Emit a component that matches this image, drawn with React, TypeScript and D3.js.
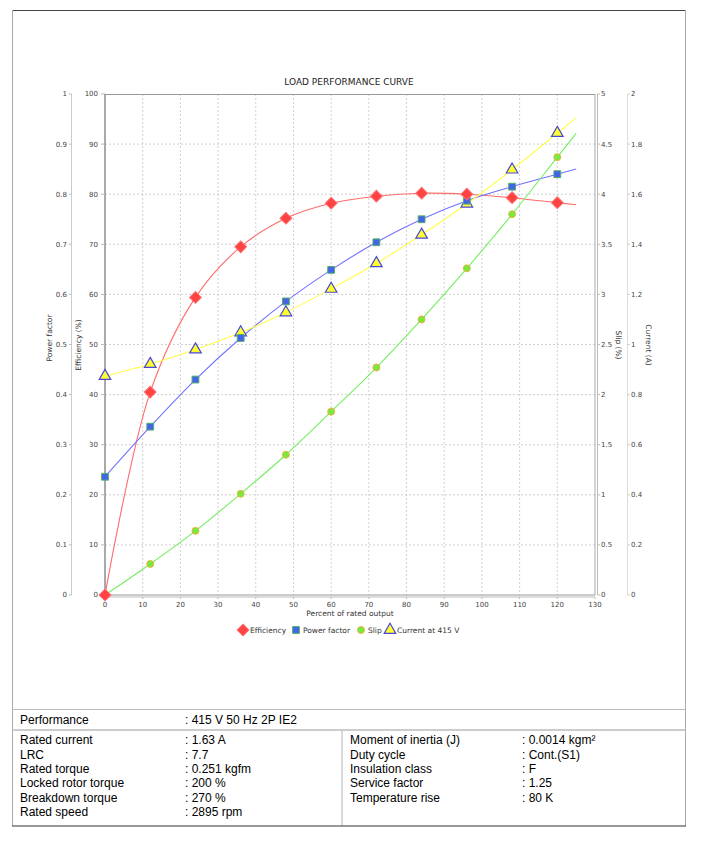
import * as d3 from "d3";

// load test points, % of rated output
const pctOutput = [0, 12, 24, 36, 48, 60, 72, 84, 96, 108, 120];
const efficiency = [0, 40.5, 59.4, 69.5, 75.2, 78.2, 79.6, 80.2, 80.0, 79.3, 78.3];
const powerFactor = [0.236, 0.336, 0.43, 0.513, 0.586, 0.649, 0.704, 0.75, 0.787, 0.815, 0.84];
const slip = [0, 0.31, 0.64, 1.01, 1.4, 1.83, 2.27, 2.75, 3.26, 3.8, 4.37];
const current = [0.874, 0.922, 0.98, 1.048, 1.128, 1.222, 1.324, 1.438, 1.562, 1.698, 1.844];
const curveEnd = 125;

const xTicks = d3.range(0, 131, 10);
const effTicks = d3.range(0, 101, 10);
const pfTicks = d3.range(0, 11).map((d) => d / 10);
const slipTicks = d3.range(0, 11).map((d) => d / 2);
const curTicks = d3.range(0, 11).map((d) => d / 5);

const perfRow = ["Performance", ": 415 V 50 Hz 2P IE2"];
const leftLabels = ["Rated current", "LRC", "Rated torque", "Locked rotor torque", "Breakdown torque", "Rated speed"];
const leftValues = [": 1.63 A", ": 7.7", ": 0.251 kgfm", ": 200 %", ": 270 %", ": 2895 rpm"];
const rightLabels = ["Moment of inertia (J)", "Duty cycle", "Insulation class", "Service factor", "Temperature rise"];
const rightValues = [": 0.0014 kgm²", ": Cont.(S1)", ": F", ": 1.25", ": 80 K"];

const legendItems = [
  { name: "Efficiency", x: 243 },
  { name: "Power factor", x: 296 },
  { name: "Slip", x: 361 },
  { name: "Current at 415 V", x: 390 },
];

const chartFont = "DejaVu Sans, sans-serif";
const tableFont = "Liberation Sans, Arial, sans-serif";

const L = 105, R = 595, T = 94, B = 595;

const x = d3.scaleLinear().domain([0, 130]).range([L, R]);
const yEff = d3.scaleLinear().domain([0, 100]).range([B, T]);
const yPf = d3.scaleLinear().domain([0, 1]).range([B, T]);
const ySlip = d3.scaleLinear().domain([0, 5]).range([B, T]);
const yCur = d3.scaleLinear().domain([0, 2]).range([B, T]);

function curvePoints(xs: number[], ys: number[]): [number, number][] {
  const n = xs.length;
  const slope = (ys[n - 1] - ys[n - 2]) / (xs[n - 1] - xs[n - 2]);
  const pts: [number, number][] = xs.map((v, i) => [v, ys[i]]);
  pts.push([curveEnd, ys[n - 1] + slope * (curveEnd - xs[n - 1])]);
  return pts;
}

const series = [
  { name: "Efficiency", values: efficiency, y: yEff, line: "#ff6b6b", fill: "#ff4242", stroke: "#ff7070", shape: "diamond" },
  { name: "Power factor", values: powerFactor, y: yPf, line: "#7272ff", fill: "#4563e8", stroke: "#4fae6a", shape: "square" },
  { name: "Slip", values: slip, y: ySlip, line: "#74ee5e", fill: "#74ec3e", stroke: "#f0b040", shape: "circle" },
  { name: "Current at 415 V", values: current, y: yCur, line: "#ffff4a", fill: "#ffff30", stroke: "#4848d8", shape: "triangle" },
];

function markerPath(shape: string): string {
  if (shape === "diamond") return d3.symbol(d3.symbolSquare, 70)()!;
  if (shape === "square") return d3.symbol(d3.symbolSquare, 46)()!;
  if (shape === "circle") return d3.symbol(d3.symbolCircle, 38)()!;
  return d3.symbol(d3.symbolTriangle, 58)()!;
}

function Marker({ s, cx, cy }: { s: (typeof series)[number]; cx: number; cy: number }) {
  return (
    <path
      d={markerPath(s.shape)}
      transform={`translate(${cx},${cy})${s.shape === "diamond" ? " rotate(45)" : ""}`}
      fill={s.fill}
      stroke={s.stroke}
      strokeWidth={s.shape === "triangle" ? 1.2 : 1}
    />
  );
}

const fmt = (v: number) => String(Math.round(v * 100) / 100);

export default function App() {
  const tickText = { fontFamily: chartFont, fontSize: 7, fill: "#444" } as const;
  const rowY0 = 740;
  const rowStep = 14.4;

  return (
    <svg width={703} height={846} style={{ position: "absolute", left: 0, top: 0, background: "#fff" }}>
      {/* frame */}
      <line x1={12} x2={685} y1={10.5} y2={10.5} stroke="#444" />
      <line x1={12.5} x2={12.5} y1={10} y2={826} stroke="#aaa" />
      <line x1={685.5} x2={685.5} y1={10} y2={826} stroke="#aaa" />

      <text x={349} y={82} dy="0.35em" textAnchor="middle" fontFamily={chartFont} fontSize={9} fill="#222">
        LOAD PERFORMANCE CURVE
      </text>

      {/* grid */}
      {xTicks.filter((t) => t > 0 && t < 130).map((t) => (
        <line key={"gx" + t} x1={x(t)} x2={x(t)} y1={T} y2={B} stroke="#c4c4c4" strokeDasharray="2,2" strokeWidth={0.8} />
      ))}
      {effTicks.filter((t) => t > 0 && t < 100).map((t) => (
        <line key={"gy" + t} x1={L} x2={R} y1={yEff(t)} y2={yEff(t)} stroke="#c4c4c4" strokeDasharray="2,2" strokeWidth={0.8} />
      ))}
      {/* plot outline */}
      <line x1={L} x2={R} y1={T + 0.5} y2={T + 0.5} stroke="#999" />
      <line x1={L} x2={L} y1={T} y2={B} stroke="#555" />
      <line x1={R} x2={R} y1={T} y2={B} stroke="#aaa" />
      <line x1={L} x2={R} y1={B} y2={B} stroke="#999" />

      {/* x axis */}
      <line x1={L} x2={R} y1={B + 2} y2={B + 2} stroke="#bbb" />
      {xTicks.map((t) => (
        <g key={"xt" + t}>
          <line x1={x(t)} x2={x(t)} y1={B + 2} y2={B + 4} stroke="#bbb" />
          <text x={x(t)} y={B + 12} textAnchor="middle" {...tickText}>{t}</text>
        </g>
      ))}
      <text x={350} y={613} dy="0.35em" textAnchor="middle" fontFamily={chartFont} fontSize={7.5} fill="#333">
        Percent of rated output
      </text>

      {/* power factor axis */}
      <line x1={71.5} x2={71.5} y1={T} y2={B} stroke="#ccc" />
      {pfTicks.map((t) => (
        <g key={"pf" + t}>
          <line x1={69} x2={71.5} y1={yPf(t)} y2={yPf(t)} stroke="#bbb" />
          <text x={67} y={yPf(t)} dy="0.35em" textAnchor="end" {...tickText}>{fmt(t)}</text>
        </g>
      ))}
      <text transform="translate(52,338) rotate(-90)" textAnchor="middle" fontFamily={chartFont} fontSize={7.5} fill="#333">
        Power factor
      </text>

      {/* efficiency axis */}
      {effTicks.map((t) => (
        <g key={"ef" + t}>
          <line x1={101} x2={L} y1={yEff(t)} y2={yEff(t)} stroke="#bbb" />
          <text x={98} y={yEff(t)} dy="0.35em" textAnchor="end" {...tickText}>{t}</text>
        </g>
      ))}
      <text transform="translate(81,345) rotate(-90)" textAnchor="middle" fontFamily={chartFont} fontSize={7.5} fill="#333">
        Efficiency (%)
      </text>

      {/* slip axis */}
      <line x1={597.5} x2={597.5} y1={T} y2={B} stroke="#bbb" />
      {slipTicks.map((t) => (
        <g key={"sl" + t}>
          <line x1={597.5} x2={600} y1={ySlip(t)} y2={ySlip(t)} stroke="#bbb" />
          <text x={601} y={ySlip(t)} dy="0.35em" textAnchor="start" {...tickText}>{fmt(t)}</text>
        </g>
      ))}
      <text transform="translate(616,345) rotate(90)" textAnchor="middle" fontFamily={chartFont} fontSize={7.5} fill="#333">
        Slip (%)
      </text>

      {/* current axis */}
      <line x1={627.5} x2={627.5} y1={T} y2={B} stroke="#ddd" />
      {curTicks.map((t) => (
        <g key={"cu" + t}>
          <line x1={627.5} x2={630} y1={yCur(t)} y2={yCur(t)} stroke="#ccc" />
          <text x={631} y={yCur(t)} dy="0.35em" textAnchor="start" {...tickText}>{fmt(t)}</text>
        </g>
      ))}
      <text transform="translate(646,345) rotate(90)" textAnchor="middle" fontFamily={chartFont} fontSize={7.5} fill="#333">
        Current (A)
      </text>

      {/* curves */}
      {series.map((s) => {
        const line = d3
          .line<[number, number]>()
          .x((d) => x(d[0]))
          .y((d) => s.y(d[1]))
          .curve(d3.curveCatmullRom.alpha(0.5));
        return <path key={"l" + s.name} d={line(curvePoints(pctOutput, s.values))!} fill="none" stroke={s.line} strokeWidth={1.1} />;
      })}
      {/* markers: last series at the bottom */}
      {[...series].reverse().map((s) => (
        <g key={"m" + s.name}>
          {pctOutput.map((p, i) => (
            <Marker key={i} s={s} cx={x(p)} cy={s.y(s.values[i])} />
          ))}
        </g>
      ))}

      {/* legend */}
      {legendItems.map((item, i) => (
        <g key={item.name}>
          <Marker s={series[i]} cx={item.x} cy={630} />
          <text x={item.x + 7} y={630} dy="0.35em" fontFamily={chartFont} fontSize={7.5} fill="#333">
            {item.name}
          </text>
        </g>
      ))}

      {/* table */}
      <line x1={12} x2={685} y1={709.5} y2={709.5} stroke="#bbb" />
      <line x1={12} x2={685} y1={730} y2={730} stroke="#bbb" strokeWidth={1.5} />
      <line x1={342} x2={342} y1={730} y2={826} stroke="#ccc" strokeWidth={1.5} />
      <line x1={12} x2={686} y1={826} y2={826} stroke="#333" />
      <text x={20} y={720} dy="0.35em" fontFamily={tableFont} fontSize={12} fill="#000">{perfRow[0]}</text>
      <text x={185} y={720} dy="0.35em" fontFamily={tableFont} fontSize={12} fill="#000">{perfRow[1]}</text>
      {leftLabels.map((lab, i) => (
        <g key={lab}>
          <text x={20} y={rowY0 + i * rowStep} dy="0.35em" fontFamily={tableFont} fontSize={12} fill="#000">{lab}</text>
          <text x={185} y={rowY0 + i * rowStep} dy="0.35em" fontFamily={tableFont} fontSize={12} fill="#000">{leftValues[i]}</text>
        </g>
      ))}
      {rightLabels.map((lab, i) => (
        <g key={lab}>
          <text x={350} y={rowY0 + i * rowStep} dy="0.35em" fontFamily={tableFont} fontSize={12} fill="#000">{lab}</text>
          <text x={522} y={rowY0 + i * rowStep} dy="0.35em" fontFamily={tableFont} fontSize={12} fill="#000">{rightValues[i]}</text>
        </g>
      ))}
    </svg>
  );
}
